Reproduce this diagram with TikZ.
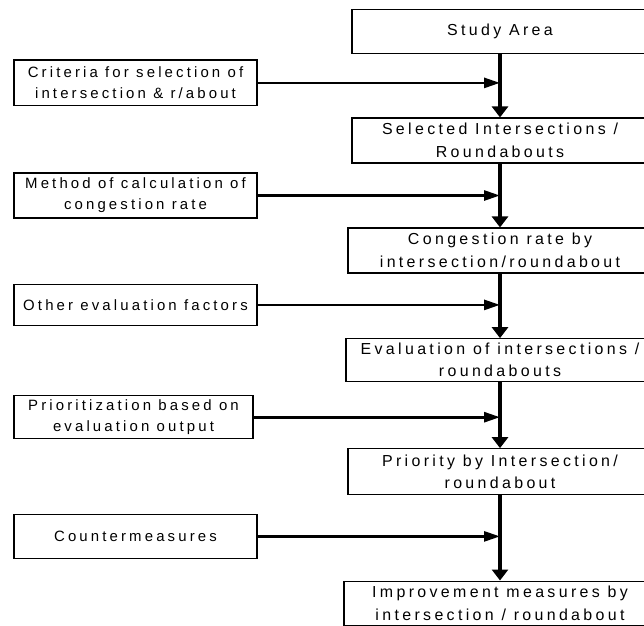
\documentclass[tikz,border=0pt]{standalone}
\usepackage{fontspec}
\setmainfont{Liberation Sans}[LetterSpace=21]
\usetikzlibrary{arrows.meta, positioning}

\begin{document}
\begin{tikzpicture}[x=1bp, y=1bp, node distance=110bp, on grid,
        stepnode/.style={draw, line width=1.1bp, minimum height=45bp, inner sep=0pt, align=center, font=\fontsize{16}{22.5}\selectfont},
        inputnode/.style={draw, line width=1.1bp, minimum width=243bp, minimum height=45bp, inner sep=0pt, align=center, font=\fontsize{15}{21}\selectfont},
        flow/.style={line width=3.3bp, -{Triangle[length=11bp, width=16bp]}},
        feed/.style={line width=2.7bp, -{Triangle[length=16bp, width=10bp]}}]
        \useasboundingbox (0,0) rectangle (644,-626);
        % Define the nodes
        \node[stepnode, minimum width=296bp, minimum height=44bp] (study) at (500,-31.3) {Study Area};
        \node[stepnode, minimum width=296bp] (selected) [below=109.2bp of study] {Selected Intersections /\\Roundabouts};
        \node[stepnode, minimum width=304bp] (congestion) [below=of selected] {Congestion rate by\\intersection/roundabout};
        \node[stepnode, minimum width=308bp, minimum height=42.6bp] (evaluation) [below=109.5bp of congestion] {Evaluation of intersections /\\roundabouts};
        \node[stepnode, minimum width=304bp, minimum height=46bp] (priority) [below=111.7bp of evaluation] {Priority by Intersection/\\roundabout};
        \node[stepnode, minimum width=312bp, minimum height=44.3bp] (improvement) [below=131.5bp of priority] {Improvement measures by\\intersection / roundabout};
        \node[inputnode, minimum height=45.7bp] (criteria) [below left=51.6bp and 364.5bp of study] {Criteria for selection of\\intersection \& r/about};
        \node[inputnode] (method) [below left=55bp and 364.5bp of selected] {Method of calculation of\\congestion rate};
        \node[inputnode, minimum height=41.7bp] (other) [below left=54.4bp and 364.5bp of congestion] {Other evaluation factors};
        \node[inputnode, minimum width=239bp, minimum height=43bp] (prioritization) [below left=57.2bp and 366.5bp of evaluation] {Prioritization based on\\evaluation output};
        \node[inputnode, minimum height=43.3bp] (counter) [below left=64.7bp and 364.5bp of priority] {Countermeasures};
        % Define the joins on the main line
        \coordinate (j_1) at (study |- criteria);
        \coordinate (j_2) at (study |- method);
        \coordinate (j_3) at (study |- other);
        \coordinate (j_4) at (study |- prioritization);
        \coordinate (j_5) at (study |- counter);
        % Define the arrows
        \path[flow]
        (study) edge (selected)
        (selected) edge (congestion)
        (congestion) edge (evaluation)
        (evaluation) edge (priority)
        (priority) edge (improvement);
        \path[feed]
        (criteria) edge (j_1)
        (method) edge (j_2)
        (other) edge (j_3)
        (prioritization) edge (j_4)
        (counter) edge (j_5);
\end{tikzpicture}
\end{document}
